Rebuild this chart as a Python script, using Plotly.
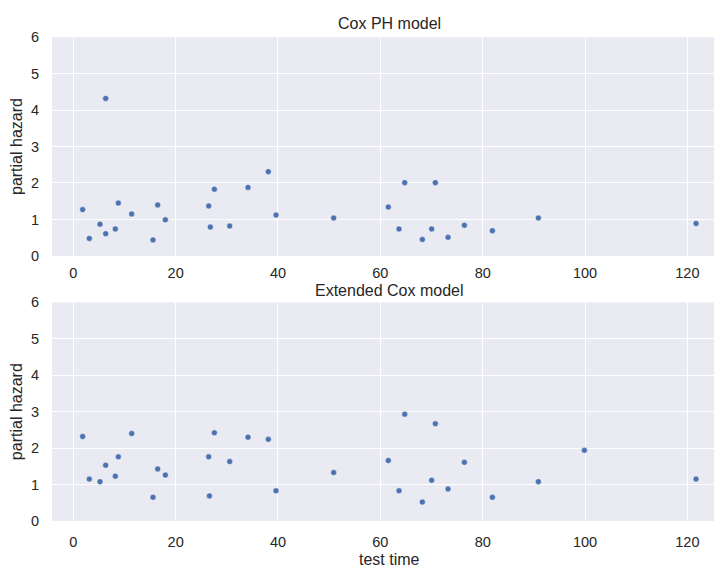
import plotly.graph_objects as go

# Top panel: Cox PH model
cox_x = [1.83, 3.13, 5.22, 6.33, 6.33, 8.21, 8.80, 11.41, 15.58, 16.49, 17.99,
         26.46, 26.78, 27.57, 30.56, 34.14, 38.11, 39.61, 50.88, 61.56, 63.65,
         64.76, 68.21, 70.03, 70.75, 73.23, 76.42, 81.89, 90.88, 121.69]
cox_y = [1.27, 0.48, 0.87, 4.32, 0.61, 0.74, 1.45, 1.15, 0.44, 1.40, 0.99,
         1.37, 0.79, 1.83, 0.82, 1.88, 2.31, 1.12, 1.04, 1.34, 0.74,
         2.01, 0.45, 0.74, 2.01, 0.51, 0.84, 0.69, 1.04, 0.89]

# Bottom panel: Extended Cox model
ext_x = [1.83, 3.13, 5.22, 6.33, 8.21, 8.80, 11.41, 15.58, 16.49, 17.99,
         26.46, 26.60, 27.57, 30.56, 34.14, 38.11, 39.61, 50.88, 61.56, 63.65,
         64.76, 68.21, 70.03, 70.75, 73.23, 76.42, 81.89, 90.88, 99.87, 121.69]
ext_y = [2.32, 1.15, 1.08, 1.53, 1.23, 1.76, 2.40, 0.65, 1.43, 1.26,
         1.76, 0.69, 2.42, 1.63, 2.30, 2.24, 0.83, 1.33, 1.66, 0.83,
         2.93, 0.52, 1.12, 2.67, 0.88, 1.61, 0.65, 1.08, 1.94, 1.15]

x_ticks = [0, 20, 40, 60, 80, 100, 120]
y_ticks = [0, 1, 2, 3, 4, 5, 6]
titles = ["Cox PH model", "Extended Cox model"]
x_label = "test time"
y_label = "partial hazard"

W, H = 714, 576
BG = "#EAEAF2"
DOT = "#4C72B0"
TXT = "#262626"
FONT = "Liberation Sans, Arial, sans-serif"
TICK = 14.5
LAB = 16
L = 52
CX = (389.5 - L) / (W - L)  # horizontal centre of the (clipped) axes

marker = dict(size=6, color=DOT, line=dict(color="white", width=0.5))

fig = go.Figure()
fig.add_trace(go.Scatter(x=cox_x, y=cox_y, mode="markers", marker=marker,
                         xaxis="x", yaxis="y", showlegend=False))
fig.add_trace(go.Scatter(x=ext_x, y=ext_y, mode="markers", marker=marker,
                         xaxis="x2", yaxis="y2", showlegend=False))

def px_dom(top, bottom):
    return [(H - bottom) / H, (H - top) / H]

xrange_ = [-4.16, 125.2]
common_x = dict(range=xrange_, tickvals=x_ticks, showgrid=True, gridcolor="white",
                gridwidth=1.2, zeroline=False, showline=False, ticks="",
                tickfont=dict(size=TICK, color=TXT, family=FONT),
                domain=[0, 1])
common_y = dict(range=[0, 6], tickvals=y_ticks, showgrid=True, gridcolor="white",
                gridwidth=1.2, zeroline=False, showline=False, ticks="",
                tickfont=dict(size=TICK, color=TXT, family=FONT), ticklabelstandoff=12)

def ann(text, ypx):
    return dict(text=text, x=CX, xref="paper", y=(H - ypx) / H, yref="paper",
                showarrow=False, font=dict(size=LAB, color=TXT, family=FONT),
                xanchor="center", yanchor="middle")

fig.update_layout(
    width=W, height=H,
    margin=dict(l=L, r=0, t=0, b=0),
    paper_bgcolor="white", plot_bgcolor=BG,
    font=dict(family=FONT, color=TXT),
    xaxis=dict(common_x, anchor="y", ticklabelstandoff=7),
    yaxis=dict(common_y, domain=px_dom(30, 255), anchor="x",
               title=dict(text=y_label, font=dict(size=LAB, color=TXT), standoff=4)),
    xaxis2=dict(common_x, anchor="y2", ticklabelstandoff=10),
    yaxis2=dict(common_y, domain=px_dom(302.7, 527.7), anchor="x2",
                title=dict(text=y_label, font=dict(size=LAB, color=TXT), standoff=4)),
    annotations=[ann(titles[0], 16), ann(titles[1], 290.5), ann(x_label, 567)],
)

fig.write_html("out.html")
